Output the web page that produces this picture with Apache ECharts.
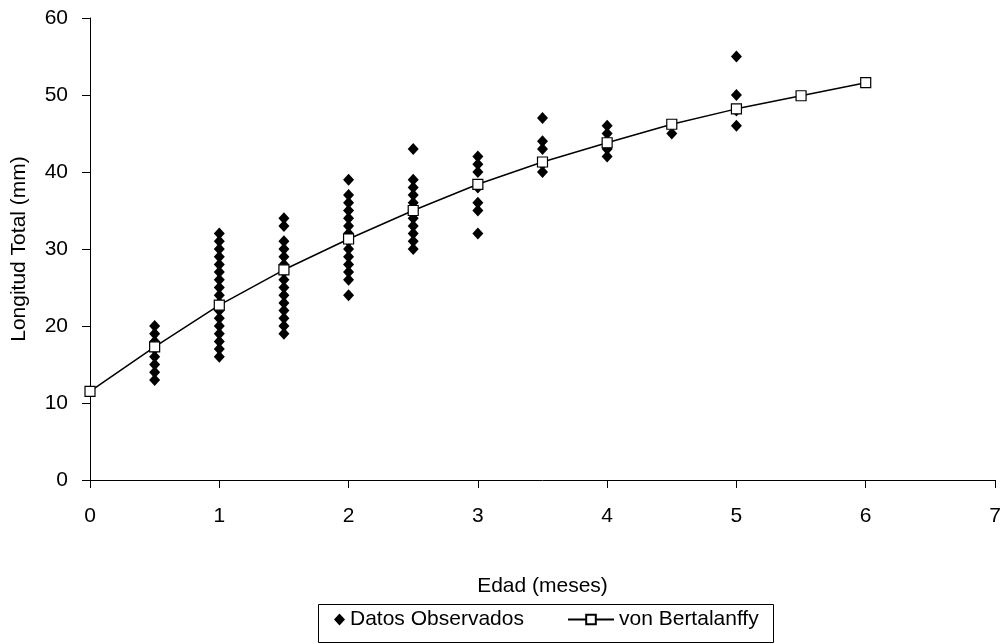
<!DOCTYPE html>
<html>
<head>
<meta charset="utf-8">
<script src="https://cdn.jsdelivr.net/npm/echarts@6/dist/echarts.min.js"></script>
<style>
  html, body { margin: 0; padding: 0; background: #fff; }
  #chart { width: 1004px; height: 644px; }
</style>
</head>
<body>
<div id="chart"></div>
<script>
// observed lengths (mm) per age (months)
const obsAges = [0.5, 1, 1.5, 2, 2.5, 3, 3.5, 4, 4.5, 5]
const obsLengths = [
  [13, 14, 15, 16, 17, 18, 19, 20],
  [16, 17, 18, 19, 20, 21, 22, 23, 24, 25, 26, 27, 28, 29, 30, 31, 32],
  [19, 20, 21, 22, 23, 24, 25, 26, 27, 28, 29, 30, 31, 33, 34],
  [24, 26, 27, 28, 29, 30, 31, 32, 33, 34, 35, 36, 37, 39],
  [30, 31, 32, 33, 34, 35, 36, 37, 38, 39, 43],
  [32, 35, 36, 38, 40, 41, 42],
  [40, 41, 43, 44, 47],
  [42, 43, 44, 45, 46],
  [45],
  [46, 48, 50, 55]
]

// von Bertalanffy fit
const vbAges = [0, 0.5, 1, 1.5, 2, 2.5, 3, 3.5, 4, 4.5, 5, 5.5, 6]
const vbLengths = [11.5, 17.3, 22.7, 27.3, 31.3, 35.0, 38.4, 41.3, 43.8, 46.2, 48.2, 49.9, 51.6]

const scatterData = []
obsAges.forEach((a, i) => obsLengths[i].forEach(v => scatterData.push([a, v])))
const lineData = vbAges.map((a, i) => [a, vbLengths[i]])

const font = 'Liberation Sans, Arial, sans-serif'
const fs = 21
const chart = echarts.init(document.getElementById('chart'))

const legendText = { fontFamily: font, fontSize: fs, color: '#000' }

chart.setOption({
  animation: false,
  textStyle: { fontFamily: font, color: '#000' },
  grid: { left: 90, right: 9, top: 18, bottom: 164 },
  // box around the two legend parts
  graphic: [{
    type: 'rect',
    left: 316, top: 602,
    shape: { width: 455, height: 38 },
    style: { fill: 'none', stroke: '#000', lineWidth: 1 },
    silent: true
  }],
  legend: [
    {
      left: 334, top: 609,
      padding: 0,
      itemWidth: 11, itemHeight: 12,
      textStyle: legendText,
      data: [{ name: 'Datos Observados', icon: 'diamond', itemStyle: { color: '#000', opacity: 1 } }]
    },
    {
      left: 567, top: 609,
      padding: 0,
      itemWidth: 46, itemHeight: 12,
      textStyle: legendText,
      data: ['von Bertalanffy']
    }
  ],
  xAxis: {
    type: 'value',
    min: 0, max: 7, interval: 1,
    name: 'Edad (meses)',
    nameLocation: 'middle',
    nameGap: 96,
    nameTextStyle: { fontSize: fs, color: '#000' },
    axisLine: { lineStyle: { color: '#000', width: 1 } },
    axisTick: { length: 8, lineStyle: { color: '#000' } },
    axisLabel: { fontSize: fs, color: '#000', margin: 26 },
    splitLine: { show: false }
  },
  yAxis: {
    type: 'value',
    min: 0, max: 60, interval: 10,
    name: 'Longitud Total (mm)',
    nameLocation: 'middle',
    nameGap: 60,
    nameTextStyle: { fontSize: fs, color: '#000' },
    axisLine: { show: true, lineStyle: { color: '#000', width: 1 } },
    axisTick: { show: true, length: 8, lineStyle: { color: '#000' } },
    axisLabel: { fontSize: fs, color: '#000', margin: 22 },
    splitLine: { show: false }
  },
  series: [
    {
      name: 'Datos Observados',
      type: 'scatter',
      symbol: 'diamond',
      symbolSize: [11, 12],
      itemStyle: { color: '#000', opacity: 1 },
      data: scatterData,
      z: 2
    },
    {
      name: 'von Bertalanffy',
      type: 'line',
      symbol: 'rect',
      symbolSize: 10,
      showAllSymbol: true,
      lineStyle: { color: '#000', width: 1.5 },
      itemStyle: { color: '#fff', borderColor: '#000', borderWidth: 1.2 },
      data: lineData,
      z: 3
    }
  ]
})
</script>
</body>
</html>
